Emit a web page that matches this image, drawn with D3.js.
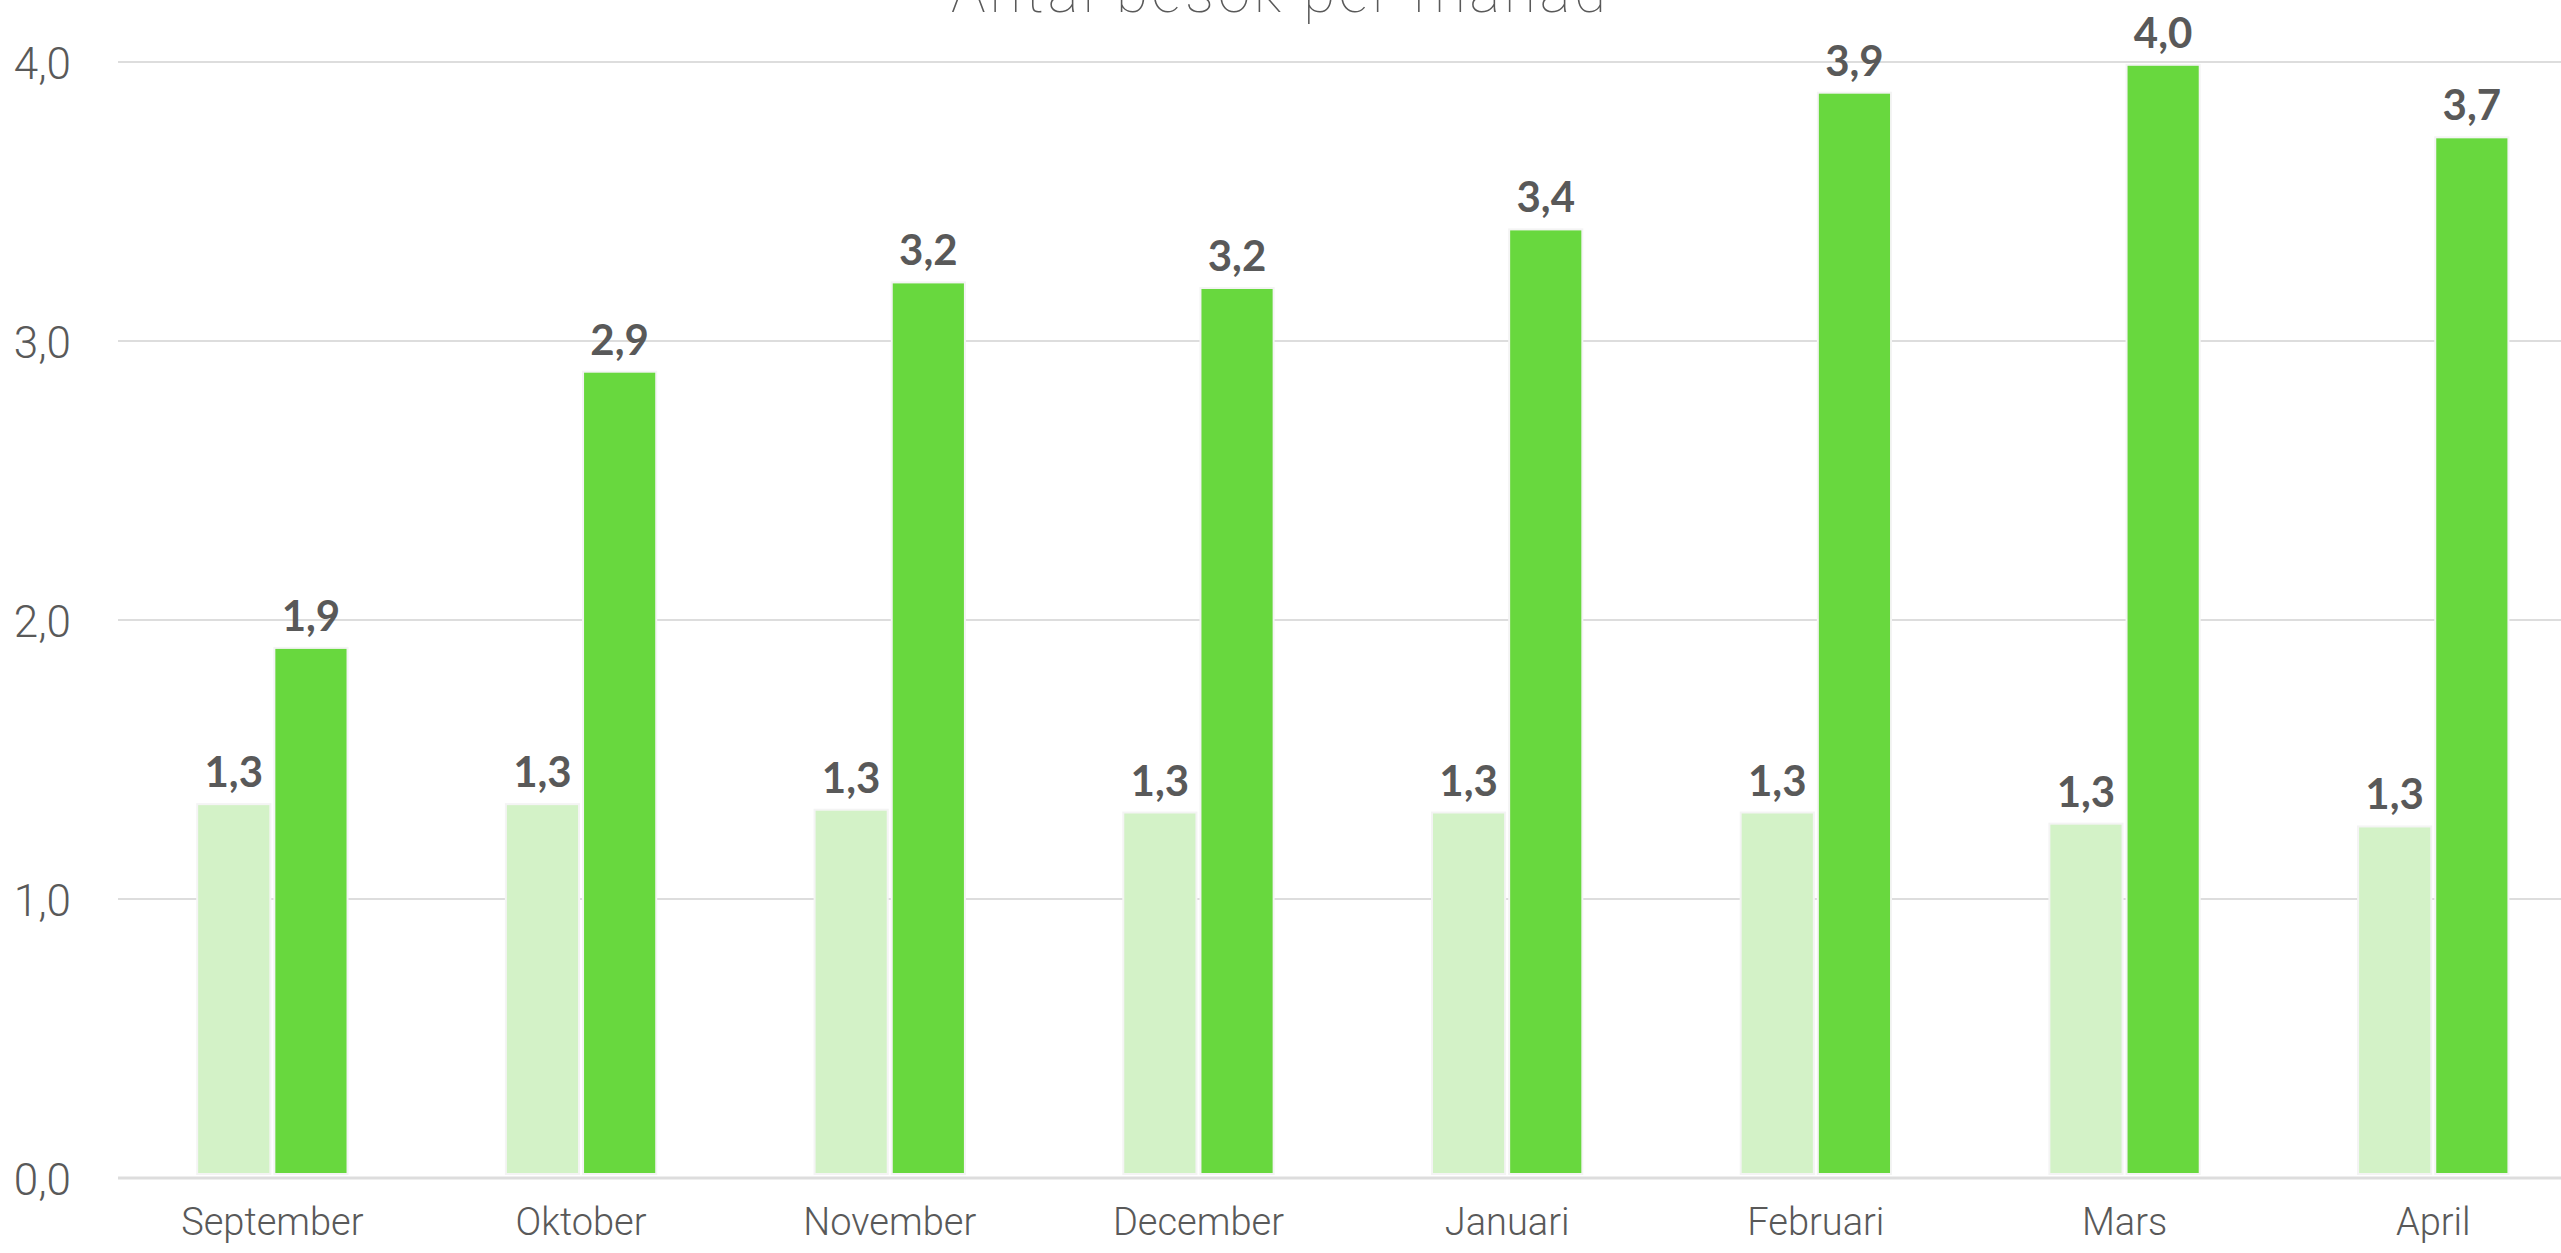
<!DOCTYPE html>
<html>
<head>
<meta charset="utf-8">
<script src="https://cdn.jsdelivr.net/npm/d3@7"></script>
<style>
  html, body { margin: 0; padding: 0; background: #ffffff; overflow: hidden; }
  svg { display: block; }
</style>
</head>
<body>
<svg id="chart" width="2561" height="1253"></svg>
<script>
const title = "Antal besök per månad";
const categories = ["September", "Oktober", "November", "December", "Januari", "Februari", "Mars", "April"];
const seriesNames = ["Föregående period", "Aktuell period"];
const lightValues = [1.34, 1.34, 1.32, 1.31, 1.31, 1.31, 1.27, 1.26];
const darkValues = [1.90, 2.89, 3.21, 3.19, 3.40, 3.89, 3.99, 3.73];
const yTicks = [0, 1, 2, 3, 4];

const colors = ["#d3f2c7", "#68d83e"];
const textColor = "#595959";
const gridColor = "#dddddd";

const svg = d3.select("#chart");
const W = 2561, H = 1253;
const plotLeft = 118, plotTop = 62, plotBottom = 1178;
const step = 308.7;

const x0 = d3.scaleBand()
  .domain(categories)
  .range([plotLeft, plotLeft + step * categories.length])
  .paddingInner(0.5)
  .paddingOuter(0.25);

const x1 = d3.scaleBand()
  .domain(seriesNames)
  .range([0, x0.bandwidth()])
  .padding(0);

const y = d3.scaleLinear().domain([0, 4]).range([plotBottom, plotTop]);

const fmt = v => d3.format(".1f")(v).replace(".", ",");

// grid lines
svg.append("g").selectAll("line")
  .data(yTicks)
  .join("line")
  .attr("x1", plotLeft)
  .attr("x2", W)
  .attr("y1", d => y(d))
  .attr("y2", d => y(d))
  .attr("stroke", gridColor)
  .attr("stroke-width", d => d === 0 ? 3 : 2);

// y axis labels
svg.append("g").selectAll("text")
  .data(yTicks)
  .join("text")
  .attr("x", 71)
  .attr("y", d => y(d) + 17)
  .attr("text-anchor", "end")
  .attr("font-family", "Roboto, 'Open Sans', sans-serif")
  .attr("font-weight", 300)
  .attr("font-size", 44)
  .attr("fill", textColor)
  .text(d => fmt(d));

// bars
const data = categories.map((c, i) => ({
  cat: c,
  vals: [
    { s: seriesNames[0], v: lightValues[i], c: colors[0] },
    { s: seriesNames[1], v: darkValues[i], c: colors[1] }
  ]
}));

const groups = svg.append("g").selectAll("g")
  .data(data)
  .join("g")
  .attr("transform", d => `translate(${x0(d.cat)},0)`);

groups.selectAll("rect")
  .data(d => d.vals)
  .join("rect")
  .attr("x", d => x1(d.s) + 2)
  .attr("width", x1.bandwidth() - 4)
  .attr("y", d => y(d.v))
  .attr("height", d => y(0) - 4 - y(d.v))
  .attr("fill", d => d.c)
  .attr("stroke", "#f4f4f4")
  .attr("stroke-width", 2);

groups.selectAll("text")
  .data(d => d.vals)
  .join("text")
  .attr("x", d => x1(d.s) + x1.bandwidth() / 2)
  .attr("y", d => y(d.v) - 17)
  .attr("text-anchor", "middle")
  .attr("font-family", "Lato, 'Open Sans', sans-serif")
  .attr("font-weight", 700)
  .attr("font-size", 42)
  .attr("fill", textColor)
  .text(d => fmt(d.v));

// x axis labels
svg.append("g").selectAll("text")
  .data(categories)
  .join("text")
  .attr("x", d => x0(d) + x0.bandwidth() / 2)
  .attr("y", 1235)
  .attr("text-anchor", "middle")
  .attr("font-family", "Roboto, 'Open Sans', sans-serif")
  .attr("font-weight", 300)
  .attr("font-size", 38)
  .attr("fill", textColor)
  .text(d => d);

// title
svg.append("text")
  .attr("x", W / 2)
  .attr("y", 12)
  .attr("text-anchor", "middle")
  .attr("font-family", "Roboto, 'Open Sans', sans-serif")
  .attr("font-weight", 100)
  .attr("font-size", 58)
  .attr("letter-spacing", 4)
  .attr("fill", textColor)
  .text(title);
</script>
</body>
</html>
